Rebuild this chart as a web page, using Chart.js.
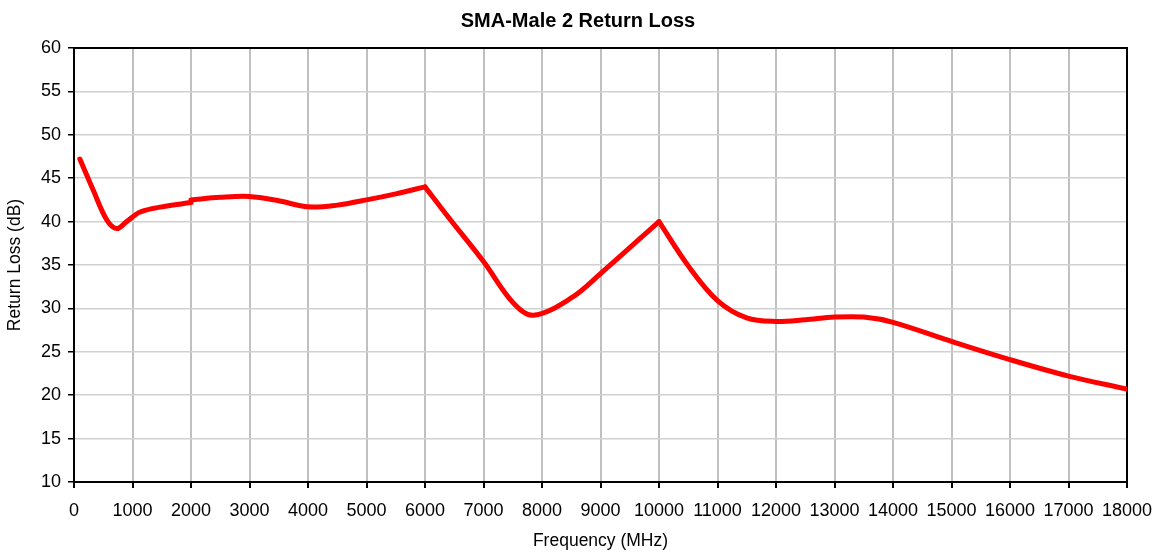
<!DOCTYPE html>
<html lang="en">
  <head>
    <meta charset="utf-8">
    <title>SMA-Male 2 Return Loss</title>
    <style>
      html, body { margin: 0; padding: 0; background: #fff; }
    </style>
  </head>
  <body>
    <canvas id="graph" width="1156" height="552"></canvas>

    <script src="https://cdn.jsdelivr.net/npm/chart.js@4.4.1/dist/chart.umd.min.js"></script>
    <script>
    // values (frequency in MHz, return loss in dB)
    var freq1 = [100, 330, 560, 730, 900, 1130, 1500, 2000];
    var loss1 = [47.2, 43.6, 40.2, 39.2, 40.0, 41.1, 41.7, 42.2];

    var freq2 = [2000, 2500, 3000, 3500, 4000, 4500, 5000, 5500, 6000];
    var loss2 = [42.5, 42.8, 42.9, 42.4, 41.7, 41.9, 42.5, 43.2, 44.0];

    var freq3 = [6000, 6400, 7000, 7500, 7850, 8500, 9000, 10000];
    var loss3 = [44.0, 40.5, 35.4, 30.7, 29.2, 31.2, 34.0, 40.0];

    var freq4 = [10000, 10500, 11000, 11500, 12000, 12500, 13000, 13500, 14000, 15000, 16000, 17000, 18000];
    var loss4 = [40.0, 34.9, 30.9, 28.9, 28.5, 28.7, 29.0, 29.0, 28.4, 26.2, 24.1, 22.2, 20.7];

    var xTicks = [0, 18000, 1000];
    var yTicks = [10, 60, 5];

    function pts(xs, ys) {
      var out = [];
      for (var i = 0; i < xs.length; i++) out.push({ x: xs[i], y: ys[i] });
      return out;
    }

    function seg(xs, ys) {
      return {
        data: pts(xs, ys),
        borderColor: '#ff0000',
        backgroundColor: '#ff0000',
        borderWidth: 5,
        pointRadius: 0,
        tension: 0.35,
        borderCapStyle: 'round',
        borderJoinStyle: 'round',
        fill: false
      };
    }

    // black frame round the plot area
    var frame = {
      id: 'frame',
      beforeDatasetsDraw: function (chart) {
        var a = chart.chartArea, c = chart.ctx;
        c.save();
        c.strokeStyle = '#000';
        c.lineWidth = 2;
        c.strokeRect(a.left, a.top, a.right - a.left, a.bottom - a.top);
        c.restore();
      }
    };

    Chart.defaults.font.family = "'Liberation Sans', Arial, sans-serif";
    Chart.defaults.color = '#000';

    var ctx = document.getElementById('graph').getContext('2d');
    var chart = new Chart(ctx, {
      type: 'line',
      data: {
        datasets: [seg(freq1, loss1), seg(freq2, loss2), seg(freq3, loss3), seg(freq4, loss4)]
      },
      plugins: [frame],
      options: {
        responsive: false,
        animation: false,
        layout: { padding: 0 },
        plugins: {
          legend: { display: false },
          tooltip: { enabled: false },
          title: {
            display: true,
            text: 'SMA-Male 2 Return Loss',
            font: { size: 20, weight: 'bold' },
            color: '#000',
            padding: { top: 9, bottom: 15 }
          }
        },
        scales: {
          x: {
            type: 'linear',
            min: xTicks[0],
            max: xTicks[1],
            afterFit: function (s) {
              s.height = 70;
              s.paddingLeft = 0;
              s.paddingRight = 29;
            },
            ticks: {
              stepSize: xTicks[2],
              autoSkip: false,
              maxRotation: 0,
              font: { size: 18 },
              padding: 12,
              callback: function (v) { return String(v); }
            },
            grid: { color: '#c0c0c0', lineWidth: 2, tickColor: '#000', tickLength: 6 },
            border: { display: false },
            title: { display: true, text: 'Frequency (MHz)', font: { size: 17.5 }, padding: { top: 4, bottom: 0 } }
          },
          y: {
            min: yTicks[0],
            max: yTicks[1],
            afterFit: function (s) { s.width = 74; },
            ticks: { stepSize: yTicks[2], font: { size: 18 }, padding: 7 },
            grid: { color: '#d0d0d0', lineWidth: 1.5, tickColor: '#000', tickLength: 6 },
            border: { display: false },
            title: { display: true, text: 'Return Loss (dB)', font: { size: 17.5 }, padding: { top: 5, bottom: 4 } }
          }
        }
      }
    });
    </script>
  </body>
</html>
